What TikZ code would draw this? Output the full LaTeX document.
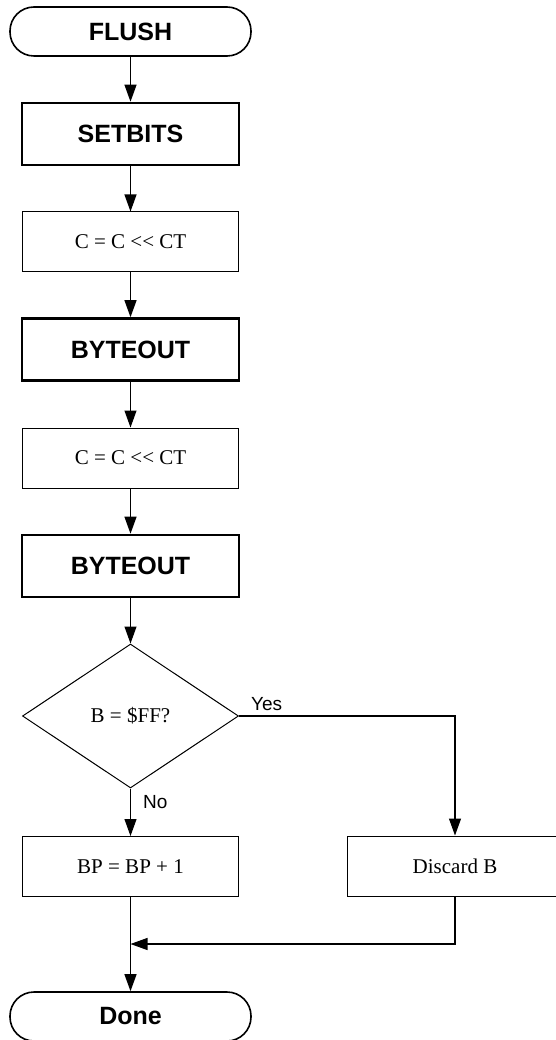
\documentclass[tikz,border=0pt]{standalone}
\usepackage{fontspec}
\setmainfont{Liberation Serif}
\newfontfamily\arialf{Liberation Sans}
\usetikzlibrary{arrows.meta,shapes.geometric}
\begin{document}
\begin{tikzpicture}[x=1pt,y=-1pt,
 term/.style={draw,line width=1.6pt,rounded corners=24pt,minimum width=241pt,minimum height=49pt,inner sep=0pt,font=\arialf\bfseries\fontsize{25}{30}\selectfont},
 subr/.style={draw,line width=2.6pt,minimum width=217pt,minimum height=62pt,inner sep=0pt,font=\arialf\bfseries\fontsize{25}{30}\selectfont},
 proc/.style={draw,line width=1pt,minimum width=216pt,minimum height=60pt,inner sep=0pt,font=\fontsize{21}{25}\selectfont},
 dec/.style={draw,diamond,line width=1pt,minimum width=216pt,minimum height=144pt,inner sep=0pt,font=\fontsize{21}{25}\selectfont},
 lbl/.style={font=\arialf\fontsize{19}{23}\selectfont,inner sep=0pt},
 conn/.style={line width=1.1pt,-{Triangle[length=17pt,width=12pt]}}]
\useasboundingbox (0,0) rectangle (556,1040);
\node[term] (flush) at (130.5,31.5) {FLUSH};
\node[subr] (setbits) at (130.5,134) {SETBITS};
\node[proc] (c1) at (130.5,242) {C = C <{}< CT};
\node[subr] (bo1) at (130.5,349.5) {BYTEOUT};
\node[proc] (c2) at (130.5,458) {C = C <{}< CT};
\node[subr] (bo2) at (130.5,566) {BYTEOUT};
\node[dec] (dec) at (130.5,716) {B = \$FF?};
\node[proc] (bp) at (130.5,866.5) {BP = BP + 1};
\node[proc] (disc) at (455,866) {Discard B};
\node[term] (done) at (130.5,1016.5) {Done};
\coordinate (m) at (130.5,944);
\node[lbl,anchor=base west] (yes) at (251,710) {Yes};
\node[lbl,anchor=base west] (no) at (143,808) {No};
\draw[conn] (flush) -- (setbits);
\draw[conn] (setbits) -- (c1);
\draw[conn] (c1) -- (bo1);
\draw[conn] (bo1) -- (c2);
\draw[conn] (c2) -- (bo2);
\draw[conn] (bo2) -- (dec);
\draw[conn] (dec) -- (bp);
\draw[conn] (dec.east) -| (disc.north);
\draw[conn] (disc.south) |- (m);
\draw[conn] (bp) -- (done);
\end{tikzpicture}
\end{document}
